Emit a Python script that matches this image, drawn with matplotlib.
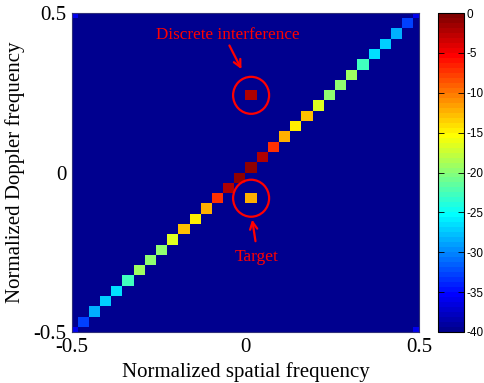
import numpy as np
import matplotlib
matplotlib.use("Agg")
import matplotlib.pyplot as plt
from matplotlib.colors import ListedColormap
from matplotlib.patches import Ellipse

plt.rcParams['axes.unicode_minus'] = False

# ---- data ----
n_grid = 32
freq_axis = np.linspace(-0.5, 0.5, n_grid)          # normalized frequency grid
background_db = -40.0
# clutter ridge (diagonal, spatial index == doppler index), dB
ridge_db = [-36.0, -32.6, -28.3, -27.5, -26.8, -22.6, -19.1, -19.9,
            -19.9, -16.4, -12.8, -14.4, -12.5, -7.4, -2.0, -1.0,
            -1.0, -2.0, -7.4, -12.5, -14.4, -12.8, -16.4, -19.9,
            -19.9, -19.1, -22.6, -26.8, -27.5, -28.3, -32.6, -36.0]
# aliased corner cells (spatial index, doppler index, dB)
corner_cells = [(31, 0, -36.0), (0, 31, -36.0)]
# target and discrete interference (spatial index, doppler index, dB)
target_cell = (16, 13, -12.5)
interference_cell = (16, 23, -2.3)

cbar_ticks = [0, -5, -10, -15, -20, -25, -30, -35, -40]
xy_ticks = [-0.5, 0, 0.5]
xy_ticklabels = ["-0.5", "0", "0.5"]

# ---- build matrix ----
Z = np.full((n_grid, n_grid), background_db)   # Z[doppler, spatial]
for k, v in enumerate(ridge_db):
    Z[k, k] = v
for (i, j, v) in corner_cells:
    Z[j, i] = v
for (i, j, v) in (target_cell, interference_cell):
    Z[j, i] = v

# MATLAB jet(64)
m = 64
nq = int(np.ceil(m / 4))
u = np.concatenate([np.arange(1, nq + 1) / nq, np.ones(nq - 1), np.arange(nq, 0, -1) / nq])
g = int(np.ceil(nq / 2)) - (1 if m % 4 == 1 else 0) + np.arange(1, len(u) + 1)
r = g + nq
b = g - nq
J = np.zeros((m, 3))
rr = r[r <= m]; J[rr - 1, 0] = u[:len(rr)]
gg = g[g <= m]; J[gg - 1, 1] = u[:len(gg)]
bb = b[b >= 1]; J[bb - 1, 2] = u[len(u) - len(bb):]
cmap = ListedColormap(J)

fig = plt.figure(figsize=(4.85, 3.83), dpi=100)
ax = fig.add_axes([72 / 485, 51 / 383, 347 / 485, 319 / 383])
cax = fig.add_axes([438 / 485, 51 / 383, 26 / 485, 319 / 383])

step = freq_axis[1] - freq_axis[0]
edges = np.concatenate([freq_axis - step / 2, [freq_axis[-1] + step / 2]])
mesh = ax.pcolormesh(edges, edges, Z, cmap=cmap, vmin=-40, vmax=0, shading='flat')
ax.set_xlim(-0.5, 0.5)
ax.set_ylim(-0.5, 0.5)

serif = ['Liberation Serif', 'DejaVu Serif']
ax.set_xticks(xy_ticks)
ax.set_xticklabels(xy_ticklabels, family=serif, fontsize=15)
ax.set_yticks(xy_ticks)
ax.set_yticklabels(xy_ticklabels, family=serif, fontsize=15)
ax.tick_params(length=0, pad=4)
ax.set_xlabel("Normalized spatial frequency", family=serif, fontsize=15, labelpad=4)
ax.set_ylabel("Normalized Doppler frequency", family=serif, fontsize=15, labelpad=6)
for s in ax.spines.values():
    s.set_color('#30307a')
    s.set_linewidth(0.8)

# circles
cw, ch = 36 / 347, 37 / 319
for (i, j, v) in (target_cell, interference_cell):
    ax.add_patch(Ellipse((freq_axis[i], freq_axis[j]), cw, ch, fill=False,
                         edgecolor='red', lw=1.6, zorder=5))

red = '#ff0000'
ax.text(-0.052, 0.4185, "Discrete interference", color=red, family=serif,
        fontsize=12.3, ha='center', va='baseline')
ax.annotate("", xy=(-0.008, 0.316), xytext=(-0.050, 0.406),
            arrowprops=dict(arrowstyle='->', color=red, lw=1.6, mutation_scale=13))
ax.text(0.033, -0.2765, "Target", color=red, family=serif,
        fontsize=12.5, ha='center', va='baseline')
ax.annotate("", xy=(0.018, -0.139), xytext=(0.030, -0.224),
            arrowprops=dict(arrowstyle='->', color=red, lw=1.6, mutation_scale=13))

cb = fig.colorbar(mesh, cax=cax, ticks=cbar_ticks)
cb.outline.set_edgecolor('black')
cb.outline.set_linewidth(0.8)
cax.tick_params(direction='in', length=4, width=0.6, left=True, right=True,
                labelsize=8.5, pad=2)
cax.set_yticklabels([str(t) for t in cbar_ticks], family=['Liberation Sans', 'DejaVu Sans'])

fig.savefig("out.png", dpi=100)
